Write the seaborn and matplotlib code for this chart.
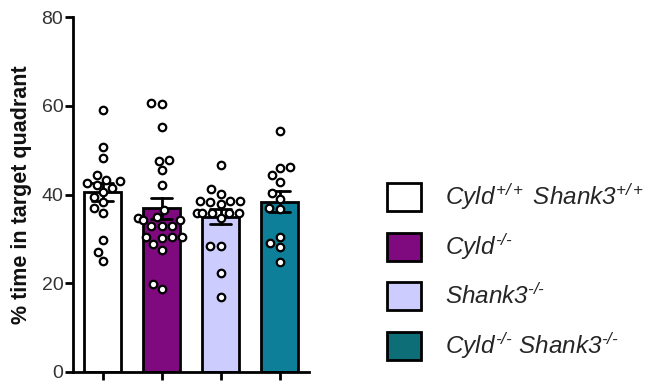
import numpy as np
import pandas as pd
import seaborn as sns
import matplotlib.pyplot as plt
from matplotlib.patches import Patch

# ---- data ----
groups = ["WT", "Cyld KO", "Shank3 KO", "DKO"]
g_wt = [59.0, 50.6, 48.2, 44.5, 43.2, 43.0, 42.6, 42.2, 41.5, 40.5, 39.5,
        38.3, 37.0, 35.9, 29.7, 27.0, 25.0]
g_cyld = [60.7, 60.3, 55.1, 47.7, 47.6, 45.5, 42.2, 36.6, 34.9, 34.6, 34.2,
          34.2, 32.9, 32.9, 32.9, 30.4, 30.4, 30.4, 30.1, 28.9, 27.6, 19.8, 18.6]
g_shank = [46.6, 41.2, 40.2, 38.5, 38.5, 38.5, 38.2, 37.8, 35.9, 35.9, 35.9,
           35.9, 35.9, 34.6, 28.4, 28.4, 22.2, 16.8]
g_dko = [54.2, 46.3, 46.0, 44.4, 42.9, 40.3, 38.9, 36.9, 36.7, 30.5, 29.0,
         28.1, 24.9]
legend_labels = [
    r"$\mathit{Cyld}^{\mathit{+/+}}\ \mathit{Shank3}^{\mathit{+/+}}$",
    r"$\mathit{Cyld}^{\text{-/-}}$",
    r"$\mathit{Shank3}^{\text{-/-}}$",
    r"$\mathit{Cyld}^{\text{-/-}}\ \mathit{Shank3}^{\text{-/-}}$",
]
y_ticks = [0, 20, 40, 60, 80]
y_label = "% time in target quadrant"

bar_colors = ["#FFFFFF", "#7F0A80", "#CCCCFF", "#0E7F98"]
legend_colors = ["#FFFFFF", "#7F0A80", "#CCCCFF", "#0D6E78"]

df = pd.DataFrame({
    "group": [groups[0]] * len(g_wt) + [groups[1]] * len(g_cyld)
             + [groups[2]] * len(g_shank) + [groups[3]] * len(g_dko),
    "value": g_wt + g_cyld + g_shank + g_dko,
})

sns.set_theme(style="ticks")
plt.rcParams["font.family"] = ["Liberation Sans", "DejaVu Sans"]
plt.rcParams["mathtext.fontset"] = "custom"
plt.rcParams["mathtext.it"] = "Liberation Sans:italic"
plt.rcParams["mathtext.rm"] = "Liberation Sans:italic"
plt.rcParams["mathtext.sf"] = "Liberation Sans"

fig = plt.figure(figsize=(6.7, 3.81), dpi=100)
ax = fig.add_axes([73 / 670, 9 / 381, 236 / 670, 355 / 381])

sns.barplot(data=df, x="group", y="value", order=groups, hue="group",
            hue_order=groups, palette=bar_colors, legend=False,
            saturation=1, estimator="mean", errorbar="se", capsize=0.35,
            width=0.64, edgecolor="black", linewidth=2,
            err_kws={"color": "black", "linewidth": 2}, ax=ax)
sns.swarmplot(data=df, x="group", y="value", order=groups, color="white",
              edgecolor="black", linewidth=1.6, size=5.4, ax=ax, zorder=3)

ax.set_xlim(-0.5, 3.5)
ax.set_ylim(0, 80)
ax.set_yticks(y_ticks)
ax.set_xticks(range(4))
ax.set_xticklabels([])
ax.set_xlabel("")
ax.set_ylabel(y_label, fontsize=15.5, fontweight="bold", color="#111111",
              labelpad=7)
for s in ["top", "right"]:
    ax.spines[s].set_visible(False)
for s in ["left", "bottom"]:
    ax.spines[s].set_linewidth(2)
    ax.spines[s].set_color("black")
ax.tick_params(axis="both", direction="out", length=6, width=2,
               color="black", labelsize=14, labelcolor="#333333", pad=1)

handles = [Patch(facecolor=c, edgecolor="black", linewidth=2)
           for c in legend_colors]
fs = 17.5
fig.legend(handles, legend_labels, loc="upper left",
           bbox_to_anchor=(387 / 670, 1 - 181 / 381),
           frameon=False, fontsize=fs, handlelength=1.4, handleheight=1.4,
           handletextpad=1.0, labelspacing=0.82, borderpad=0,
           borderaxespad=0)

fig.savefig("out.png", dpi=100)
